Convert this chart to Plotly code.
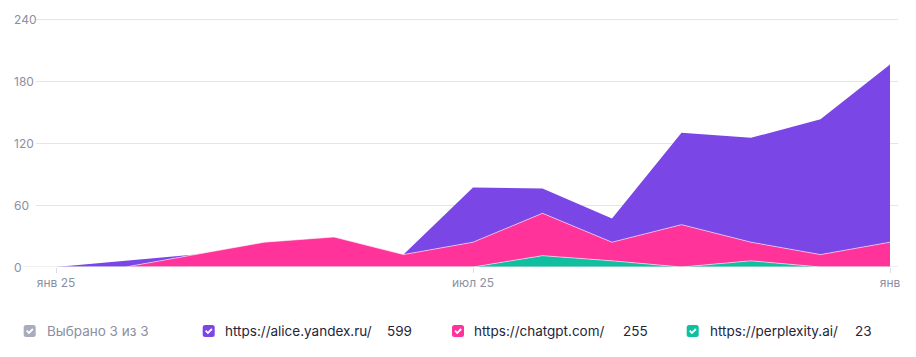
import plotly.graph_objects as go

# ---- data ----
months = ["янв 25", "фев 25", "мар 25", "апр 25", "май 25", "июн 25", "июл 25",
          "авг 25", "сен 25", "окт 25", "ноя 25", "дек 25", "янв 26"]
alice = [0, 6, 0, 0, 0, 0, 53, 24, 23, 89, 101, 131, 172]
chatgpt = [0, 0, 12, 24, 29, 12, 24, 41, 18, 41, 18, 12, 24]
perplexity = [0, 0, 0, 0, 0, 0, 0, 11, 6, 0, 6, 0, 0]

series_names = ["https://alice.yandex.ru/", "https://chatgpt.com/", "https://perplexity.ai/"]
series_totals = [599, 255, 23]
x_tick_idx = [0, 6, 12]
x_tick_text = ["янв 25", "июл 25", "янв"]
y_ticks = [0, 60, 120, 180, 240]
selected_text = "Выбрано 3 из 3"

# ---- styles ----
C_ALICE = "#7b46e6"
C_GPT = "#ff3399"
C_PPLX = "#10bf9f"
C_GRAY_BOX = "#a8acbd"
GRID = "#e4e4ed"
TICK_FONT = dict(family="Inter, Roboto, sans-serif", size=12, color="#8b8fa3")
LEG_FONT = dict(family="Inter, Roboto, sans-serif", size=13.5, color="#23263a")

W, H = 916, 357
ML, MR, MT, MB = 36, 18, 16, 90
PW = W - ML - MR
PH = H - MT - MB
Y_TOP = 240 + 3 * 240 / 248  # top gridline sits 3px below plot top

xs = list(range(len(months)))

fig = go.Figure()
for vals, name, col, lc, lw in [
    (perplexity, series_names[2], C_PPLX, "rgba(255,255,255,0.55)", 1),
    (chatgpt, series_names[1], C_GPT, "rgba(255,255,255,0.55)", 1),
    (alice, series_names[0], C_ALICE, C_ALICE, 0),
]:
    fig.add_trace(go.Scatter(
        x=xs, y=vals, name=name, mode="lines", stackgroup="one",
        fillcolor=col, line=dict(color=lc, width=lw),
        hoverinfo="skip", showlegend=False,
    ))

fig.update_xaxes(
    range=[-20 / 69.5, 12 + 8 / 69.5],
    tickvals=x_tick_idx, ticktext=x_tick_text,
    showgrid=False, zeroline=False, showline=False,
    ticks="outside", ticklen=5, tickcolor="#dcdce6", tickwidth=1,
    tickfont=TICK_FONT, fixedrange=True,
)
fig.update_yaxes(
    range=[0, Y_TOP], tickvals=y_ticks, showticklabels=False,
    showgrid=True, gridcolor=GRID, gridwidth=1,
    zeroline=False, showline=False, fixedrange=True,
)

shapes = []
annotations = []

# baseline extended a bit to the left (like reference)
shapes.append(dict(type="line", xref="paper", yref="y", x0=(23 - ML) / PW, x1=1,
                   y0=0, y1=0, line=dict(color="#dcdce6", width=1), layer="above"))

# y tick labels, left aligned
for v in y_ticks:
    annotations.append(dict(x=(12 - ML) / PW, xref="paper", y=v, yref="y",
                            text=str(v), showarrow=False, xanchor="left",
                            yanchor="middle", font=TICK_FONT))


def px2paper_x(px):
    return (px - ML) / PW


def px2paper_y(py):
    return (H - MB - py) / PH


def rounded_box(cx_px, cy_px, color):
    s, r = 6, 2.5
    path = (f"M {-s + r},{-s} L {s - r},{-s} Q {s},{-s} {s},{-s + r} "
            f"L {s},{s - r} Q {s},{s} {s - r},{s} L {-s + r},{s} "
            f"Q {-s},{s} {-s},{s - r} L {-s},{-s + r} Q {-s},{-s} {-s + r},{-s} Z")
    shapes.append(dict(type="path", xref="paper", yref="paper",
                       xsizemode="pixel", ysizemode="pixel",
                       xanchor=px2paper_x(cx_px), yanchor=px2paper_y(cy_px),
                       path=path, fillcolor=color, line=dict(width=0)))
    check = "M -3,0.3 L -0.8,-2 L 3.2,2"
    shapes.append(dict(type="path", xref="paper", yref="paper",
                       xsizemode="pixel", ysizemode="pixel",
                       xanchor=px2paper_x(cx_px), yanchor=px2paper_y(cy_px),
                       path=check, line=dict(color="white", width=1.8)))


LEG_Y = 331
legend_items = [
    (29.7, 44.7, selected_text, None, None, C_GRAY_BOX, "#8b8fa3"),
    (208.7, 222.7, series_names[0], 385, series_totals[0], C_ALICE, LEG_FONT["color"]),
    (458, 472, series_names[1], 620.7, series_totals[1], C_GPT, LEG_FONT["color"]),
    (692.7, 707.7, series_names[2], 852.7, series_totals[2], C_PPLX, LEG_FONT["color"]),
]
for bx, tx, txt, nx, num, bcol, tcol in legend_items:
    rounded_box(bx, LEG_Y, bcol)
    annotations.append(dict(x=px2paper_x(tx), xref="paper", y=px2paper_y(LEG_Y), yref="paper",
                            text=txt, showarrow=False, xanchor="left", yanchor="middle",
                            font=dict(family=LEG_FONT["family"], size=LEG_FONT["size"], color=tcol)))
    if num is not None:
        annotations.append(dict(x=px2paper_x(nx), xref="paper", y=px2paper_y(LEG_Y), yref="paper",
                                text=str(num), showarrow=False, xanchor="left", yanchor="middle",
                                font=LEG_FONT))

fig.update_layout(
    width=W, height=H,
    margin=dict(l=ML, r=MR, t=MT, b=MB, pad=0),
    paper_bgcolor="white", plot_bgcolor="white",
    shapes=shapes, annotations=annotations,
    showlegend=False, hovermode=False,
)

fig.write_html("out.html", config={"displayModeBar": False},
               post_script="document.body.style.margin='0';document.body.style.overflow='hidden';")
